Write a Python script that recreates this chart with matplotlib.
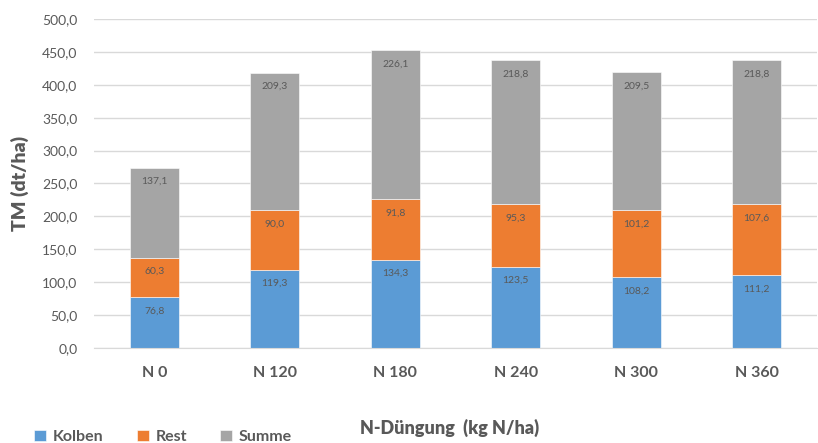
import matplotlib
matplotlib.use("Agg")
import matplotlib.pyplot as plt
import numpy as np

categories = ["N 0", "N 120", "N 180", "N 240", "N 300", "N 360"]
kolben = [76.8, 119.3, 134.3, 123.5, 108.2, 111.2]
rest = [60.3, 90.0, 91.8, 95.3, 101.2, 107.6]
summe = [137.1, 209.3, 226.1, 218.8, 209.5, 218.8]
series_names = ["Kolben", "Rest", "Summe"]
colors = ["#5B9BD5", "#ED7D31", "#A5A5A5"]

plt.rcParams["font.family"] = ["Lato", "DejaVu Sans"]
txt_gray = "#595959"
grid_gray = "#D9D9D9"

fig = plt.figure(figsize=(8.18, 4.43), dpi=100)
ax = fig.add_axes([94 / 818, 1 - 348 / 443, (817 - 94) / 818, (348 - 19) / 443])

x = np.arange(len(categories))
width = 0.41
bottom = np.zeros(len(categories))
handles = []
for name, vals, col in zip(series_names, [kolben, rest, summe], colors):
    vals = np.array(vals)
    bars = ax.bar(x, vals, width, bottom=bottom, color=col, label=name,
                  edgecolor="white", linewidth=0.4, zorder=2)
    handles.append(bars)
    for xi, b, v in zip(x, bottom, vals):
        ax.annotate(f"{v:.1f}".replace(".", ","), (xi, b + v),
                    xytext=(0, -10), textcoords="offset points",
                    ha="center", va="center", fontsize=7.5, color=txt_gray)
    bottom = bottom + vals

ax.set_xlim(-0.5, len(categories) - 0.5)
ax.set_ylim(0, 500)
ax.set_yticks(np.arange(0, 501, 50))
ax.set_yticklabels([f"{t:.1f}".replace(".", ",") for t in np.arange(0, 501, 50)])
ax.set_xticks(x)
ax.set_xticklabels(categories, fontweight="bold", fontsize=11.5, color=txt_gray)
ax.tick_params(axis="y", length=0, pad=12, labelsize=10, labelcolor=txt_gray)
ax.tick_params(axis="x", length=0, pad=13)
ax.grid(axis="y", color=grid_gray, linewidth=1, zorder=0)
ax.set_axisbelow(True)
for s in ["top", "right", "left"]:
    ax.spines[s].set_visible(False)
ax.spines["bottom"].set_color(grid_gray)

fig.text(20 / 818, 1 - 183 / 443, "TM (dt/ha)", rotation=90, ha="center", va="center",
         fontsize=14, fontweight="heavy", color=txt_gray)
fig.text(450 / 818, 1 - 428 / 443, "N-Düngung  (kg N/ha)", ha="center", va="center",
         fontsize=13, fontweight="heavy", color=txt_gray)

leg = fig.legend(handles=handles, labels=series_names, loc="center left",
                 bbox_to_anchor=(28 / 818, 1 - 437 / 443), ncol=3, frameon=False,
                 handlelength=0.75, handleheight=0.75, handletextpad=0.4,
                 columnspacing=2.1, borderaxespad=0, borderpad=0.4,
                 prop={"size": 11.5, "weight": "bold"})
for t in leg.get_texts():
    t.set_color(txt_gray)

fig.savefig("out.png", dpi=100)
